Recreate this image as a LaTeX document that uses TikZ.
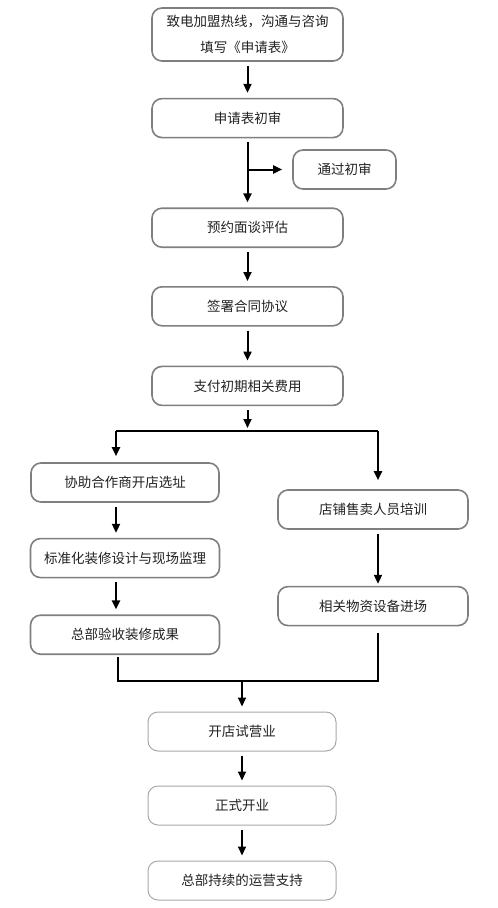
\documentclass[tikz,border=0pt]{standalone}
\usepackage{fontspec}
\setmainfont{Noto Sans CJK SC}
\usetikzlibrary{arrows.meta, positioning, calc}
\definecolor{BoxGray}{HTML}{7F7F7F}
\definecolor{BoxLight}{HTML}{A8A8A8}
\definecolor{TextDark}{HTML}{222222}

\begin{document}
\begin{tikzpicture}[x=1pt, y=-1pt, node distance=36pt, every node/.style={font=\fontsize{13.5}{26}\selectfont, text=TextDark}]
  \tikzset{
    stage/.style={rectangle, rounded corners=10pt, draw=BoxGray, line width=1.6pt, fill=white, minimum width=191pt, minimum height=39pt, align=center, inner sep=0pt},
    final/.style={stage, draw=BoxLight, line width=1pt, minimum width=188pt},
    side/.style={stage, minimum width=103pt},
    line/.style={-{Triangle[width=8pt, length=9pt]}, line width=2pt, shorten <=4pt, shorten >=5pt},
    bus/.style={line width=2pt}
  }
  \useasboundingbox (0,0) rectangle (498,908);

  % main column
  \node[stage, minimum height=53pt] (call) at (247.5,34.5) {致电加盟热线，沟通与咨询\\填写《申请表》};
  \node[stage, below=36pt of call] (review) {申请表初审};
  \node[stage, below=69pt of review] (interview) {预约面谈评估};
  \node[stage, below=38pt of interview] (contract) {签署合同协议};
  \node[stage, below=39pt of contract] (payment) {支付初期相关费用};
  \node[side] (pass) at (344.5,169.5) {通过初审};

  % two branches
  \node[stage, minimum width=188pt] (site) at (125,482.5) {协助合作商开店选址};
  \node[stage, minimum width=189pt, below=35pt of site] (design) {标准化装修设计与现场监理};
  \node[stage, minimum width=189pt, below=36pt of design] (accept) {总部验收装修成果};
  \node[stage, minimum width=190pt] (train) at (373,509.5) {店铺售卖人员培训};
  \node[stage, minimum width=190pt, below=56pt of train] (goods) {相关物资设备进场};

  % opening
  \node[final] (trial) at (242,731.5) {开店试营业};
  \node[final, below=34pt of trial] (opening) {正式开业};
  \node[final, below=35pt of opening] (support) {总部持续的运营支持};

  \coordinate (fork) at (247.5,169.5);
  \coordinate (splitL) at (116,431);
  \coordinate (splitR) at (378,431);
  \coordinate (mergeL) at (118,681);
  \coordinate (mergeR) at (378,681);

  \draw[line] (call) -- (review);
  \draw[line] (review) -- (interview);
  \draw[line, shorten <=0pt, shorten >=10pt] (fork) -- (pass.west);
  \draw[line] (interview) -- (contract);
  \draw[line] (contract) -- (payment);
  \draw[line, shorten >=3pt] (payment) -- (payment.south |- splitL);
  \draw[bus] (splitL) -- (splitR);
  \draw[line, shorten <=0pt, shorten >=6pt] (splitL) -- (splitL |- site.north);
  \draw[line, shorten <=0pt, shorten >=9pt] (splitR) -- (splitR |- train.north);
  \draw[line] (site.south -| splitL) -- (design.north -| splitL);
  \draw[line] (design.south -| splitL) -- (accept.north -| splitL);
  \draw[line, shorten >=2pt] (train.south -| splitR) -- (goods.north -| splitR);
  \draw[bus, shorten <=2pt, shorten >=7pt] (accept.south -| mergeL) |- (mergeR) -- (goods.south -| mergeR);
  \draw[line, shorten <=0pt] (mergeL -| trial.north) -- (trial.north);
  \draw[line] (trial) -- (opening);
  \draw[line] (opening) -- (support);
\end{tikzpicture}
\end{document}
